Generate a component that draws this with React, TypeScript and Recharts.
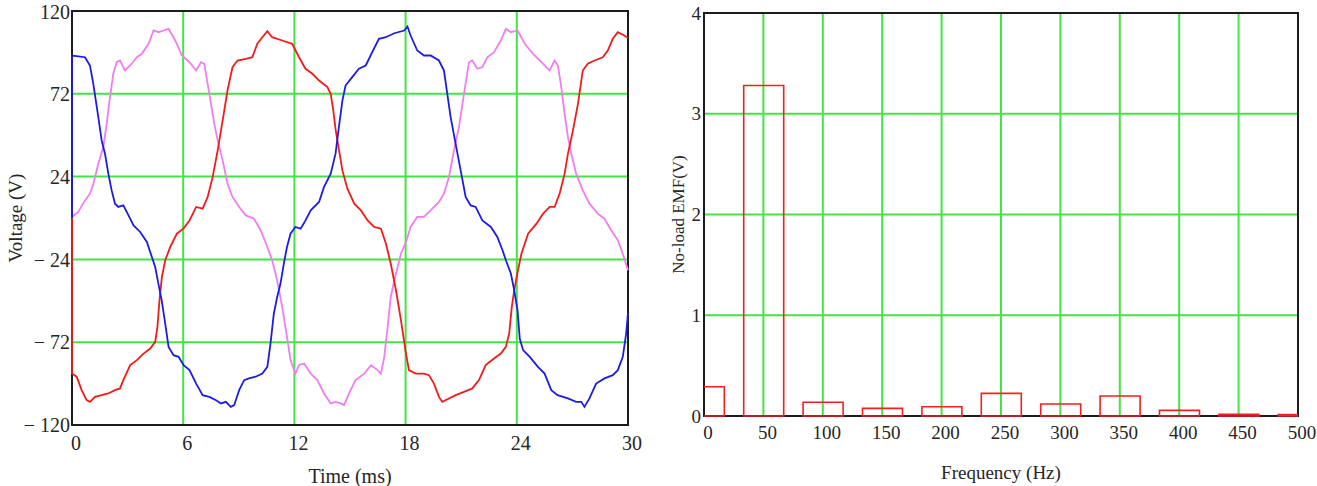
import React from 'react';
import { LineChart, Line, BarChart, Bar, XAxis, YAxis, CartesianGrid, ReferenceArea } from 'recharts';

// three-phase no-load EMF, [time ms, volts]
const phaseBlue: [number, number][] = [
  [0, 0], [0, 94.2], [0.7, 93.2], [0.97, 88.4], [1.15, 77.8], [1.42, 58.5], [1.6, 45], [1.78, 37.3],
  [1.96, 25.7], [2.14, 16], [2.32, 8.3], [2.5, 6.4], [2.77, 7.3], [3.05, 1.5], [3.32, -4.3], [3.68, -8.1],
  [4.04, -13.9], [4.31, -22.6], [4.49, -28.4], [4.66, -38], [4.84, -47.7], [5.03, -61.2], [5.21, -74.7],
  [5.48, -79.5], [5.75, -80.5], [6.02, -85.3], [6.34, -88.2], [6.7, -96], [7.05, -102.7], [7.41, -103.7],
  [7.77, -105.6], [8.04, -107.5], [8.3, -106.6], [8.57, -109.5], [8.75, -108.5], [9.02, -99.8], [9.29, -94],
  [9.55, -93], [9.91, -92], [10.27, -90.2], [10.54, -86.3], [10.71, -72.8], [10.89, -55.4], [11.07, -45.8],
  [11.25, -38], [11.43, -26.5], [11.6, -16.8], [11.79, -9.1], [12.05, -5.2], [12.34, -6.2], [12.6, -1.4],
  [12.88, 4.4], [13.33, 9.3], [13.6, 18], [13.96, 25.7], [14.22, 37.3], [14.4, 52.7], [14.59, 68.1],
  [14.76, 76.8], [15.12, 81.7], [15.48, 86.5], [15.85, 88.4], [16.2, 96.1], [16.56, 103.9], [16.93, 104.8],
  [17.39, 107.1], [17.93, 108.7], [18.1, 111], [18.27, 105.8], [18.63, 97.1], [18.99, 94.2], [19.35, 94.2],
  [19.8, 91.3], [20.07, 85.5], [20.25, 72], [20.43, 58.5], [20.7, 43], [20.97, 27.6], [21.24, 12.2],
  [21.51, 7.3], [21.78, 6.4], [22.14, -1.4], [22.6, -5.2], [22.95, -11], [23.23, -18.7], [23.41, -24.5],
  [23.68, -32.2], [23.86, -41.9], [24.04, -53.5], [24.16, -70], [24.34, -76.6], [24.7, -80.5], [25.14, -86.3],
  [25.5, -90.2], [25.86, -99.8], [26.2, -102.7], [26.76, -104.6], [27.2, -106.6], [27.48, -106.6],
  [27.65, -109.5], [27.92, -104.6], [28.28, -96], [28.73, -93], [29.18, -91.1], [29.45, -88.2], [29.72, -80.5],
  [29.9, -67], [30, -55],
];

const phaseRed: [number, number][] = [
  [0, 0], [0, -90.2], [0.25, -92], [0.52, -99.8], [0.79, -105.6], [0.97, -106.6], [1.24, -103.7], [1.6, -102.7],
  [1.96, -101.7], [2.32, -99.8], [2.59, -98.8], [2.77, -94], [3.14, -85.3], [3.5, -82.4], [3.86, -78.6],
  [4.22, -75.7], [4.49, -71.8], [4.61, -63.1], [4.72, -47.7], [4.85, -34.2], [5.03, -24.5], [5.3, -16.8],
  [5.66, -9.1], [6.02, -6], [6.34, -1.4], [6.7, 6.4], [7.05, 5.4], [7.32, 12.2], [7.59, 23.7], [7.86, 39.2],
  [8.13, 56.6], [8.39, 73.9], [8.66, 87.4], [8.93, 91.3], [9.38, 92.3], [9.73, 93.2], [10, 101], [10.27, 104.8],
  [10.54, 108.3], [10.8, 104.8], [11.34, 102.9], [11.88, 101], [12.25, 93.2], [12.6, 86.5], [12.97, 83.6],
  [13.33, 79.7], [13.78, 75.9], [13.96, 72], [14.1, 62.3], [14.23, 50.8], [14.41, 39.2], [14.59, 27.6],
  [14.86, 17], [15.23, 8.3], [15.59, 4.4], [15.95, -1.4], [16.3, -5.2], [16.67, -6.2], [16.94, -14.9],
  [17.2, -26.5], [17.48, -41.9], [17.75, -59.3], [18.02, -78.6], [18.18, -88.2], [18.54, -90.2], [18.99, -90.2],
  [19.26, -91.1], [19.53, -96], [19.8, -103.7], [19.98, -106.6], [20.34, -104.6], [20.7, -102.7],
  [21.15, -100.8], [21.6, -98.8], [21.96, -94], [22.32, -85.3], [22.77, -81.5], [23.14, -78.6], [23.41, -74.7],
  [23.59, -67], [23.73, -51.5], [23.86, -41.9], [24.05, -31], [24.25, -20.7], [24.61, -9.1], [25.06, -3.3],
  [25.42, 2.5], [25.78, 6.4], [26.04, 6.4], [26.31, 14.1], [26.58, 25.7], [26.76, 37.3], [27.03, 50.8],
  [27.3, 66.2], [27.56, 85.5], [27.83, 89.4], [28.19, 91.3], [28.64, 93.2], [28.91, 97.1], [29.18, 103.9],
  [29.45, 107.7], [29.8, 105.8], [30, 104.4],
];

const phasePink: [number, number][] = [
  [0, 0.6], [0.34, 3.5], [0.7, 10.2], [0.97, 14.1], [1.15, 19.9], [1.42, 31.5], [1.69, 41.1], [1.87, 54.6],
  [2.05, 70.1], [2.23, 83.6], [2.41, 90.3], [2.59, 91.3], [2.86, 85.5], [3.14, 88.4], [3.5, 93.2], [3.77, 95.2],
  [4.13, 101], [4.4, 108.7], [4.67, 107.7], [4.94, 108.7], [5.21, 109.6], [5.57, 102.9], [5.93, 94.2],
  [6.34, 90.3], [6.7, 85.5], [6.96, 90.3], [7.14, 89.4], [7.32, 77.8], [7.5, 66.2], [7.68, 54.6], [7.86, 45],
  [8.13, 33.4], [8.39, 19.9], [8.66, 12.2], [9.02, 6.4], [9.38, 1.5], [9.82, -0.4], [10.18, -7.1],
  [10.54, -16.8], [10.8, -24.5], [11.07, -36.1], [11.34, -51.5], [11.6, -68.9], [11.79, -82.4], [12.05, -90.2],
  [12.25, -85.3], [12.52, -84.4], [12.88, -90.2], [13.24, -94], [13.6, -101.7], [13.96, -107.5],
  [14.23, -106.6], [14.5, -107.5], [14.68, -108.5], [14.95, -101.7], [15.3, -94], [15.77, -90.2],
  [16.13, -85.3], [16.49, -88.2], [16.67, -90.2], [16.85, -80.5], [17.03, -63.1], [17.2, -45.8],
  [17.39, -36.1], [17.75, -20.7], [18.05, -12.9], [18.27, -5.2], [18.63, 0.6], [18.99, 0.6], [19.35, 4.4],
  [19.8, 9.3], [20.07, 14.1], [20.34, 23.7], [20.61, 39.2], [20.88, 52.7], [21.15, 72], [21.42, 90.3],
  [21.6, 91.3], [21.87, 86.5], [22.14, 87.4], [22.41, 93.2], [22.77, 96.1], [23.14, 102.9], [23.41, 109.6],
  [23.68, 107.7], [24.04, 108.7], [24.43, 101], [24.88, 95.2], [25.33, 90.3], [25.77, 85.5], [26.04, 91.3],
  [26.22, 88.4], [26.4, 75.9], [26.58, 60.4], [26.76, 46.9], [26.94, 37.3], [27.2, 25.7], [27.56, 16],
  [27.92, 8.3], [28.37, 2.5], [28.73, -0.4], [29.09, -7.1], [29.45, -12.9], [29.72, -20.7], [30, -30.3],
];

const timeTicks = [0, 6, 12, 18, 24, 30];
const voltTicks = [-120, -72, -24, 24, 72, 120];

// harmonic spectrum
const harmonicFreq = [0, 50, 100, 150, 200, 250, 300, 350, 400, 450, 500];
const harmonicEmf = [0.29, 3.28, 0.136, 0.076, 0.092, 0.225, 0.119, 0.198, 0.056, 0.017, 0.015];
const freqTicks = [0, 50, 100, 150, 200, 250, 300, 350, 400, 450, 500];
const emfTicks = [0, 1, 2, 3, 4];

const toPoints = (pairs: [number, number][]) => pairs.map(([t, v]) => ({ t, v }));
const spectrum = harmonicFreq.map((f, i) => ({ f, emf: harmonicEmf[i] }));

const serif = '"Liberation Serif", "Times New Roman", serif';
const gridGreen = '#44e444';
const frameColor = '#1c1c1c';
const textColor = '#262626';

const fmtVolt = (v: number) => (v < 0 ? `\u2212 ${-v}` : `${v}`);

// x tick labels sit a few px right of their grid line
const shiftedTick = (size: number) => (p: any) => (
  <text x={p.x + 4} y={p.y} dy="0.71em" textAnchor="middle" fontFamily={serif} fontSize={size} fill={textColor}>
    {p.payload.value}
  </text>
);

const verticalTitle = (text: string, x: number, size: number) => (props: any) => {
  const vb = props.viewBox;
  const cy = vb.y + vb.height / 2;
  return (
    <text
      x={x}
      y={cy}
      transform={`rotate(-90 ${x} ${cy})`}
      textAnchor="middle"
      dominantBaseline="central"
      fontFamily={serif}
      fontSize={size}
      fill={textColor}
    >
      {text}
    </text>
  );
};

function Waveforms() {
  const tick = { fill: textColor, fontSize: 20, fontFamily: serif };
  return (
    <LineChart width={650} height={486} margin={{ top: 11, right: 22, bottom: 0, left: 0 }}>
      <CartesianGrid stroke={gridGreen} strokeWidth={2} />
      <XAxis
        type="number"
        dataKey="t"
        domain={[0, 30]}
        ticks={timeTicks}
        height={61}
        axisLine={false}
        tickLine={false}
        tickSize={0}
        tickMargin={11}
        tick={shiftedTick(20)}
        label={{ value: 'Time (ms)', position: 'insideBottom', offset: 3, fill: textColor, fontSize: 20, fontFamily: serif }}
      />
      <YAxis
        type="number"
        domain={[-120, 120]}
        ticks={voltTicks}
        width={72}
        axisLine={false}
        tickLine={false}
        tickSize={0}
        tickMargin={2}
        tick={tick}
        tickFormatter={fmtVolt}
        label={verticalTitle('Voltage (V)', 15, 19)}
      />
      <ReferenceArea x1={0} x2={30} y1={-120} y2={120} fill="none" stroke={frameColor} strokeWidth={2} />
      <Line data={toPoints(phasePink)} dataKey="v" stroke="#f07ef0" strokeWidth={1.8} dot={false} isAnimationActive={false} />
      <Line data={toPoints(phaseRed)} dataKey="v" stroke="#f01c1c" strokeWidth={1.8} dot={false} isAnimationActive={false} />
      <Line data={toPoints(phaseBlue)} dataKey="v" stroke="#1c1ce6" strokeWidth={1.8} dot={false} isAnimationActive={false} />
    </LineChart>
  );
}

function Spectrum() {
  const tick = { fill: textColor, fontSize: 19, fontFamily: serif };
  return (
    <BarChart width={667} height={486} data={spectrum} barSize={40} margin={{ top: 13, right: 19, bottom: 0, left: 0 }}>
      <CartesianGrid stroke={gridGreen} strokeWidth={2} />
      <XAxis
        type="number"
        dataKey="f"
        domain={[0, 500]}
        ticks={freqTicks}
        allowDataOverflow
        height={70}
        axisLine={false}
        tickLine={false}
        tickSize={0}
        tickMargin={10}
        tick={shiftedTick(19)}
        label={{ value: 'Frequency (Hz)', position: 'insideBottom', offset: 7, fill: textColor, fontSize: 19, fontFamily: serif }}
      />
      <YAxis
        type="number"
        domain={[0, 4]}
        ticks={emfTicks}
        width={54}
        axisLine={false}
        tickLine={false}
        tickSize={0}
        tickMargin={3}
        tick={tick}
        label={verticalTitle('No-load EMF(V)', 28, 17)}
      />
      <ReferenceArea x1={0} x2={500} y1={0} y2={4} fill="none" stroke={frameColor} strokeWidth={2} />
      <Bar dataKey="emf" fill="none" stroke="#f22020" strokeWidth={1.6} isAnimationActive={false} />
    </BarChart>
  );
}

export default function App() {
  return (
    <div style={{ position: 'absolute', left: 0, top: 0, width: 1317, height: 486, background: '#fff' }}>
      <div style={{ position: 'absolute', left: 0, top: 0 }}>
        <Waveforms />
      </div>
      <div style={{ position: 'absolute', left: 650, top: 0 }}>
        <Spectrum />
      </div>
    </div>
  );
}
